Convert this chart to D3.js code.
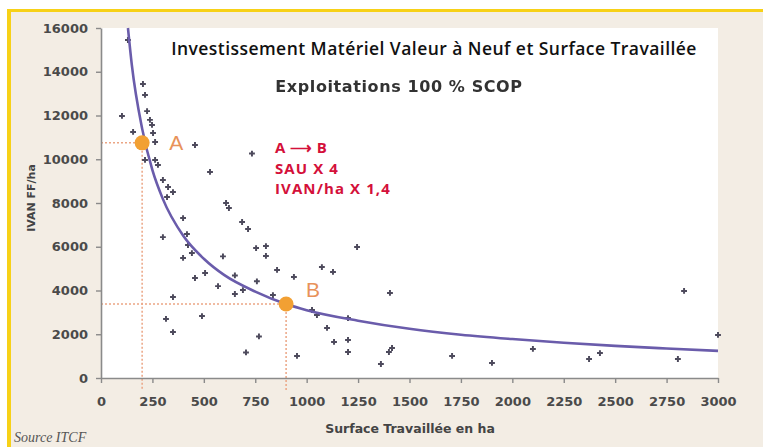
<!DOCTYPE html>
<html>
<head>
<meta charset="utf-8">
<script src="https://cdn.jsdelivr.net/npm/d3@7"></script>
<style>
  body { margin: 0; background: #fff; }
  svg { display: block; }
</style>
</head>
<body>
<svg width="763" height="447"></svg>
<script>
// farms: surface worked (ha) and IVAN (FF/ha)
var surface = [131, 204, 214, 102, 224, 238, 248, 156, 253, 263, 457, 214, 263, 277, 301, 326, 350, 530, 734,
  321, 399, 418, 301, 423, 442, 399, 506, 457, 350, 491, 316, 350, 569, 593, 608, 622, 686, 715, 754,
  802, 802, 651, 758, 856, 938, 651, 690, 836, 768, 705, 953, 1026, 1050, 1245, 1074, 1128, 1405,
  1201, 1099, 1133, 1201, 1201, 1415, 1400, 1361, 1707, 1901, 2100, 2373, 2426, 2805, 2835, 3000];
var ivan = [15450, 13440, 12940, 11980, 12200, 11800, 11570, 11250, 11200, 10790, 10650, 9970, 9970, 9740, 9050, 8730, 8500, 9420, 10260,
  8270, 7310, 6580, 6440, 6080, 5710, 5490, 4800, 4570, 3700, 2830, 2700, 2100, 4200, 5560, 8000, 7770, 7130, 6810, 5940,
  6030, 5580, 4690, 4420, 4940, 4620, 3840, 4020, 3790, 1900, 1170, 1010, 3110, 2880, 5990, 5070, 4850, 3890,
  2740, 2290, 1650, 1740, 1190, 1370, 1190, 640, 1010, 690, 1330, 870, 1140, 870, 3980, 1970];

// trend curve
var trendX = [131, 150, 200, 250, 300, 400, 500, 600, 750, 900, 1000, 1250, 1500, 1750, 2000, 2250, 2500, 2750, 3000];
var trendY = [16000, 14300, 11400, 9500, 8200, 6500, 5450, 4700, 3950, 3380, 3100, 2620, 2250, 1980, 1780, 1610, 1470, 1350, 1240];

// A and B markers
var markLabels = ["A", "B"];
var markX = [200, 900];
var markY = [10750, 3380];

var xTicks = d3.range(0, 3001, 250);
var yTicks = d3.range(0, 16001, 2000);

var svg = d3.select("svg");

// page background + yellow frame
svg.append("rect").attr("x", 7).attr("y", 9).attr("width", 756).attr("height", 438).attr("fill", "#f7d117");
svg.append("rect").attr("x", 11).attr("y", 12).attr("width", 752).attr("height", 435).attr("fill", "#f3ede4");

var xScale = d3.scaleLinear().domain([0, 3000]).range([101, 718]);
var yScale = d3.scaleLinear().domain([0, 16000]).range([378, 28]);

// white plot area
svg.append("rect")
  .attr("x", xScale(0)).attr("y", yScale(16000))
  .attr("width", xScale(3000) - xScale(0)).attr("height", yScale(0) - yScale(16000))
  .attr("fill", "#fff");

var defs = svg.append("defs");
defs.append("filter").attr("id", "soft")
  .append("feGaussianBlur").attr("stdDeviation", 0.55);

// titles
svg.append("text")
  .attr("x", 434).attr("y", 55)
  .attr("text-anchor", "middle")
  .style("font", "600 17.5px 'Open Sans'")
  .style("letter-spacing", "0.45px")
  .attr("fill", "#111")
  .text("Investissement Matériel Valeur à Neuf et Surface Travaillée");

svg.append("text")
  .attr("x", 399).attr("y", 92)
  .attr("text-anchor", "middle")
  .attr("filter", "url(#soft)")
  .style("font", "bold 16px 'DejaVu Sans'")
  .style("letter-spacing", "0.6px")
  .attr("fill", "#333")
  .text("Exploitations 100 % SCOP");

// red note
var note = ["A\u2009\u27F6\u2009B", "SAU X 4", "IVAN/ha X 1,4"];
svg.selectAll(".note").data(note).enter().append("text")
  .attr("class", "note")
  .attr("x", 275)
  .attr("y", function(d, i) { return 153 + i * 20.5; })
  .style("font", "bold 15px 'Open Sans'")
  .style("letter-spacing", "1.1px")
  .attr("fill", "#d4103a")
  .text(function(d) { return d; });

// dotted guides
var marks = markLabels.map(function(l, i) { return {label: l, x: markX[i], y: markY[i]}; });
var guide = svg.append("g")
  .attr("stroke", "#eba584").attr("stroke-width", 1.5).attr("stroke-dasharray", "2,2").attr("fill", "none");
marks.forEach(function(m) {
  guide.append("line")
    .attr("x1", xScale(0)).attr("x2", xScale(m.x))
    .attr("y1", yScale(m.y)).attr("y2", yScale(m.y));
  guide.append("line")
    .attr("x1", xScale(m.x)).attr("x2", xScale(m.x))
    .attr("y1", yScale(m.y)).attr("y2", yScale(0) + 12);
});

// axes
var axisY = svg.append("g")
  .attr("transform", "translate(" + xScale(0) + ",0)")
  .call(d3.axisLeft(yScale).tickValues(yTicks).tickSize(5).tickSizeOuter(0).tickPadding(8).tickFormat(d3.format("d")));
var axisX = svg.append("g")
  .attr("transform", "translate(0," + yScale(0) + ")")
  .call(d3.axisBottom(xScale).tickValues(xTicks).tickSize(5).tickSizeOuter(0).tickPadding(14).tickFormat(d3.format("d")));

[axisY, axisX].forEach(function(a) {
  a.select(".domain").attr("stroke", "#8a8a8a").attr("stroke-width", 1.6);
  a.selectAll(".tick line").attr("stroke", "#8a8a8a").attr("stroke-width", 1.4);
  a.selectAll(".tick text")
    .attr("fill", "#4a4a4a")
    .style("font", "bold 13px 'DejaVu Sans'");
});

// scatter crosses
var pts = surface.map(function(s, i) { return {x: s, y: ivan[i]}; });
svg.append("g").selectAll("path").data(pts).enter().append("path")
  .attr("transform", function(d) { return "translate(" + xScale(d.x) + "," + yScale(d.y) + ")"; })
  .attr("d", d3.symbol(d3.symbolCross).size(19))
  .attr("fill", "#4d4a5c");

// trend curve
var trend = trendX.map(function(t, i) { return {x: t, y: trendY[i]}; });
var line = d3.line()
  .x(function(d) { return xScale(d.x); })
  .y(function(d) { return yScale(d.y); })
  .curve(d3.curveMonotoneX);
svg.append("path")
  .attr("d", line(trend))
  .attr("fill", "none")
  .attr("stroke", "#6a5cab")
  .attr("stroke-width", 2.6);

// A / B dots and letters
svg.selectAll(".mark").data(marks).enter().append("circle")
  .attr("class", "mark")
  .attr("cx", function(d) { return xScale(d.x); })
  .attr("cy", function(d) { return yScale(d.y); })
  .attr("r", 7.5)
  .attr("fill", "#f2a033");
svg.selectAll(".markText").data(marks).enter().append("text")
  .attr("class", "markText")
  .attr("x", function(d, i) { return xScale(d.x) + (i == 0 ? 27 : 20); })
  .attr("y", function(d, i) { return yScale(d.y) + (i == 0 ? 7 : -7); })
  .style("font", "21px 'Liberation Sans'")
  .attr("fill", "#e8925a")
  .text(function(d) { return d.label; });

// axis titles and source
svg.append("text")
  .attr("x", 410).attr("y", 433)
  .attr("text-anchor", "middle")
  .style("font", "bold 12.5px 'DejaVu Sans'")
  .attr("fill", "#444")
  .text("Surface Travaillée en ha");
svg.append("text")
  .attr("transform", "translate(35,198) rotate(-90)")
  .attr("text-anchor", "middle")
  .style("font", "bold 11px 'DejaVu Sans'")
  .attr("fill", "#444")
  .text("IVAN FF/ha");
svg.append("text")
  .attr("x", 14).attr("y", 442)
  .style("font", "italic 14px 'Liberation Serif'")
  .attr("fill", "#555")
  .text("Source ITCF");
</script>
</body>
</html>
